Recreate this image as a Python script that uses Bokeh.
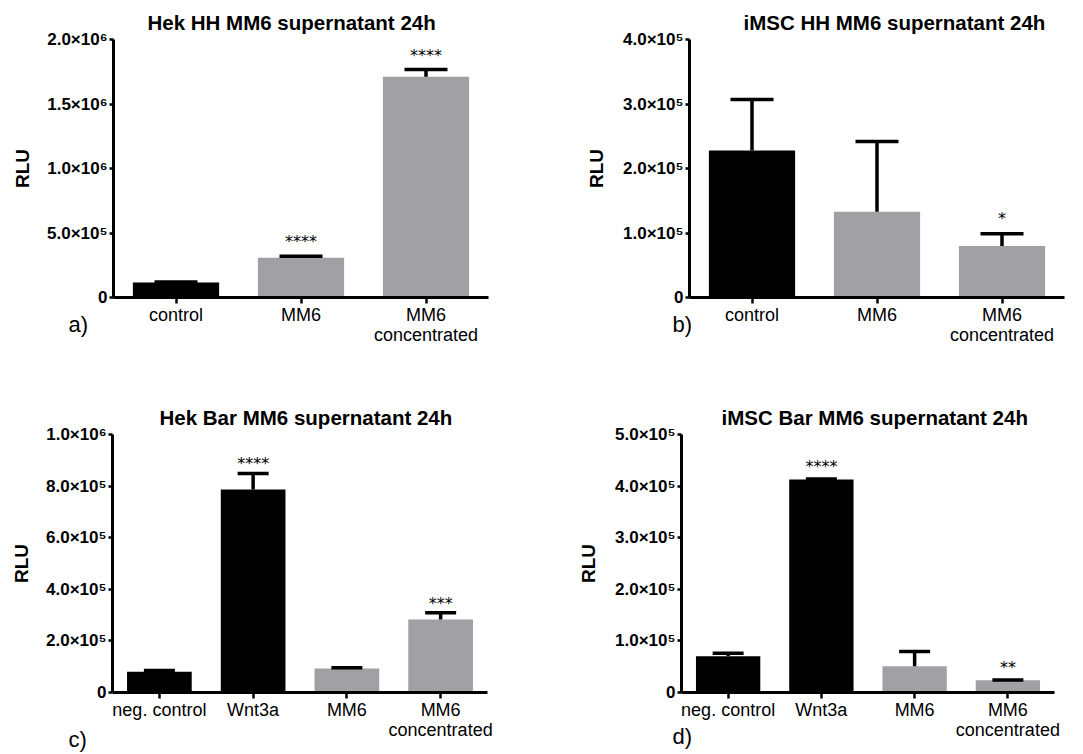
from bokeh.plotting import figure
from bokeh.models import FactorRange, Range1d, FixedTicker, ColumnDataSource, Whisker, TeeHead, Title
from bokeh.layouts import column, row
from bokeh.embed import file_html
from bokeh.resources import INLINE
from bokeh.core.properties import value

# ---------------- data ----------------
a_title = "Hek HH MM6 supernatant 24h"
a_cats = ["control", "MM6", "MM6\nconcentrated"]
a_mean = [117000, 309000, 1712000]
a_sd = [4000, 10000, 55000]
a_stars = ["", "****", "****"]
a_ticks = [0, 500000, 1000000, 1500000, 2000000]
a_tick_labels = ["0", "5.0×10⁵", "1.0×10⁶", "1.5×10⁶", "2.0×10⁶"]

b_title = "iMSC HH MM6 supernatant 24h"
b_cats = ["control", "MM6", "MM6\nconcentrated"]
b_mean = [228000, 133000, 80000]
b_sd = [79000, 109000, 19000]
b_stars = ["", "", "*"]
b_ticks = [0, 100000, 200000, 300000, 400000]
b_tick_labels = ["0", "1.0×10⁵", "2.0×10⁵", "3.0×10⁵", "4.0×10⁵"]

c_title = "Hek Bar MM6 supernatant 24h"
c_cats = ["neg. control", "Wnt3a", "MM6", "MM6\nconcentrated"]
c_mean = [80000, 787000, 93000, 283000]
c_sd = [5000, 62000, 3000, 26000]
c_stars = ["", "****", "", "***"]
c_ticks = [0, 200000, 400000, 600000, 800000, 1000000]
c_tick_labels = ["0", "2.0×10⁵", "4.0×10⁵", "6.0×10⁵", "8.0×10⁵", "1.0×10⁶"]

d_title = "iMSC  Bar MM6 supernatant 24h"
d_cats = ["neg. control", "Wnt3a", "MM6", "MM6\nconcentrated"]
d_mean = [70300, 412800, 51000, 23800]
d_sd = [6000, 1200, 28400, 300]
d_stars = ["", "****", "", "**"]
d_ticks = [0, 100000, 200000, 300000, 400000, 500000]
d_tick_labels = ["0", "1.0×10⁵", "2.0×10⁵", "3.0×10⁵", "4.0×10⁵", "5.0×10⁵"]

# ---------------- style ----------------
BLACK = "#000000"
GREY = "#a0a0a5"
FONT = "Liberation Sans"
a_fill = [BLACK, GREY, GREY]
b_fill = [BLACK, GREY, GREY]
c_fill = [BLACK, BLACK, GREY, GREY]
d_fill = [BLACK, BLACK, GREY, GREY]


def panel(title, cats, mean, sd, stars, fill, ticks, tick_labels, tag,
          width, height, left, right, top, bottom, title_off, cap, star_off,
          ylab_standoff, tag_off, tag_standoff):
    p = figure(x_range=FactorRange(*cats, range_padding=0),
               y_range=Range1d(0, ticks[-1]),
               width=width, height=height,
               min_border_left=left, min_border_right=right,
               min_border_top=top, min_border_bottom=bottom,
               output_backend="svg", toolbar_location=None,
               title=title)
    p.outline_line_color = None
    p.xgrid.grid_line_color = None
    p.ygrid.grid_line_color = None
    p.background_fill_color = "white"
    p.border_fill_color = "white"

    p.title.align = "left"
    p.title.offset = title_off
    p.title.text_font = FONT
    p.title.text_font_size = "20.5px"
    p.title.text_font_style = "bold"
    p.title.text_color = "black"
    p.title.standoff = 12

    upper = [m + s for m, s in zip(mean, sd)]
    src = ColumnDataSource(dict(x=cats, mean=mean, upper=upper, stars=stars, fill=fill))
    p.vbar(x="x", top="mean", bottom=0, width=0.69, source=src,
           fill_color="fill", line_color=None)
    w = Whisker(base="x", lower="mean", upper="upper", source=src,
                line_width=3.5, line_color="black", lower_head=None,
                upper_head=TeeHead(size=cap, line_width=3.5, line_color="black"),
                level="annotation")
    p.add_layout(w)
    p.text(x="x", y="upper", text="stars", source=src, text_align="center",
           text_baseline="bottom", y_offset=star_off,
           text_font=value("DejaVu Sans"), text_font_size="16px", text_color="black")

    ya = p.yaxis[0]
    ya.ticker = FixedTicker(ticks=ticks)
    ya.major_label_overrides = {t: l for t, l in zip(ticks, tick_labels)}
    ya.minor_tick_line_color = None
    ya.major_tick_in = 0
    ya.major_tick_out = 4
    ya.major_tick_line_width = 2.5
    ya.axis_line_width = 3
    ya.major_label_standoff = 2
    ya.major_label_text_font = FONT
    ya.major_label_text_font_style = "bold"
    ya.major_label_text_font_size = "17px"
    ya.major_label_text_color = "black"
    ya.axis_label = "RLU"
    ya.axis_label_text_font = FONT
    ya.axis_label_text_font_style = "bold"
    ya.axis_label_text_font_size = "19px"
    ya.axis_label_text_color = "black"
    ya.axis_label_standoff = ylab_standoff

    xa = p.xaxis[0]
    xa.major_tick_in = 0
    xa.major_tick_out = 6
    xa.major_tick_line_width = 2.5
    xa.axis_line_width = 3
    xa.major_label_standoff = 1
    xa.major_label_text_font = FONT
    xa.major_label_text_font_size = "18px"
    xa.major_label_text_font_style = "normal"
    xa.major_label_text_color = "black"
    xa.major_label_text_line_height = 1.0

    # panel tag, placed in the panel below the x axis
    t = Title(text=tag, align="left", vertical_align="top", offset=tag_off,
              text_font=FONT, text_font_size="22px", text_font_style="normal",
              text_color="black")
    try:
        t.standoff = tag_standoff
    except Exception:
        t.standoff = 0
    p.add_layout(t, "below")
    return p


pa = panel(a_title, a_cats, a_mean, a_sd, a_stars, a_fill, a_ticks, a_tick_labels, "a)",
           540, 390, 113, 52, 39, 93, 34, 43, -5, 11, -45, -72)
pb = panel(b_title, b_cats, b_mean, b_sd, b_stars, b_fill, b_ticks, b_tick_labels, "b)",
           543, 390, 149, 19, 39, 93, 54, 43, -6, 13, -17, -72)
pc = panel(c_title, c_cats, c_mean, c_sd, c_stars, c_fill, c_ticks, c_tick_labels, "c)",
           540, 364, 112, 53, 44, 62, 47, 31, 0, 11, -44, -32)
pd = panel(d_title, d_cats, d_mean, d_sd, d_stars, d_fill, d_ticks, d_tick_labels, "d)",
           543, 364, 141, 29, 44, 62, 40, 31, -3, 13, -9, -38)

layout = column(row(pa, pb), row(pc, pd))
open("out.html", "w").write(file_html(layout, INLINE))
